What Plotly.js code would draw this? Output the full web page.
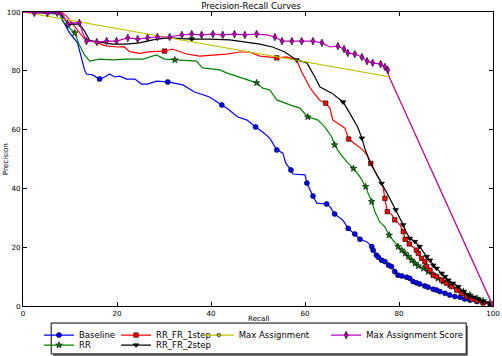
<!DOCTYPE html>
<html>
<head>
<meta charset="utf-8">
<script src="https://cdn.plot.ly/plotly-3.0.1.min.js"></script>
<style>
  html, body { margin: 0; padding: 0; background: #fff; }
  #plot { width: 502px; height: 356px; }
</style>
</head>
<body>
<div id="plot"></div>
<script>
// precision / recall values

var baseR = [0, 8.2, 8.4, 9.9, 11.6, 12.5, 13.1, 13.5, 14.8, 16.3, 17.4, 18.4, 19.5, 20.6, 22.0, 23.8, 25.2, 26.5, 28.4, 30.8, 34.0, 36.5, 39.7, 42.3, 43.6, 45.7, 47.6, 49.5, 51.0, 52.5, 54.0, 55.3, 55.9, 57.0, 57.4, 60.0, 60.4, 61.7, 62.5, 64.6, 65.3, 66.3, 68.0, 69.2, 70.6, 71.7, 73.2, 74.2, 74.5, 75.2, 75.6, 76.3, 77.0, 77.8, 78.4, 79.1, 79.8, 80.6, 81.6, 82.3, 83.0, 83.7, 84.4, 85.5, 86.2, 87.3, 88.0, 88.7, 89.8, 90.8, 91.9, 93.0, 94.0, 95.1, 96.6, 97.9, 99.4, 100];
var baseP = [100, 100, 97.3, 92.9, 89.5, 83.7, 80.3, 78.9, 78.6, 77.2, 77.9, 78.9, 77.9, 78.2, 77.2, 77.2, 75.5, 75.5, 76.5, 76.2, 75.2, 72.8, 71.1, 68.4, 67.0, 64.3, 63.3, 60.9, 59.2, 57.1, 53.1, 52.0, 48.6, 46.3, 44.9, 44.6, 41.8, 37.4, 35.0, 34.7, 33.8, 31.3, 29.3, 26.4, 24.5, 22.7, 21.8, 20.2, 19.0, 17.3, 16.6, 15.6, 15.1, 13.9, 13.4, 11.7, 10.5, 10.2, 9.8, 9.4, 8.3, 7.9, 7.5, 6.8, 6.4, 5.7, 5.4, 4.9, 4.3, 3.7, 3.2, 3.0, 2.4, 2.0, 1.5, 1.1, 0.7, 0];
var baseMarkR = [16.3, 30.8, 42.3, 49.5, 54.0, 57.0, 60.4, 61.7, 64.6, 66.3, 69.2, 70.6, 71.7, 74.2, 74.5, 75.2, 75.6, 76.3, 77.0, 77.8, 78.4, 79.1, 79.8, 80.6, 81.6, 82.3, 83.0, 83.7, 84.4, 85.5, 86.2, 87.3, 88.0, 88.7, 89.8, 90.8, 91.9, 93.0, 94.0, 95.1, 96.6, 97.9, 99.4];
var baseMarkP = [77.2, 76.2, 68.4, 60.9, 53.1, 46.3, 41.8, 37.4, 34.7, 31.3, 26.4, 24.5, 22.7, 20.2, 19.0, 17.3, 16.6, 15.6, 15.1, 13.9, 13.4, 11.7, 10.5, 10.2, 9.8, 9.4, 8.3, 7.9, 7.5, 6.8, 6.4, 5.7, 5.4, 4.9, 4.3, 3.7, 3.2, 3.0, 2.4, 2.0, 1.5, 1.1, 0.7];

var rrR = [0, 7.8, 8.4, 9.3, 11.0, 12.0, 13.1, 14.2, 16.3, 19.1, 22.0, 25.5, 28.4, 30.1, 32.3, 36.9, 38.2, 41.9, 43.3, 45.7, 47.8, 49.7, 51.0, 52.5, 54.0, 56.8, 58.9, 60.6, 62.7, 64.2, 65.7, 66.3, 67.4, 68.9, 70.3, 71.7, 72.3, 72.9, 73.4, 74.2, 74.9, 75.9, 77.0, 77.9, 78.7, 79.8, 80.6, 81.3, 82.0, 82.7, 83.4, 84.1, 85.2, 86.2, 87.3, 88.3, 89.4, 90.8, 92.3, 93.7, 95.1, 96.6, 97.9, 99.4, 100];
var rrP = [100, 99.3, 96.9, 95.6, 92.9, 88.8, 85.4, 83.3, 84.0, 83.7, 84.0, 84.0, 85.4, 84.0, 83.7, 83.3, 81.0, 80.3, 79.3, 77.9, 76.9, 75.9, 74.1, 73.5, 70.1, 68.4, 67.3, 64.3, 63.3, 60.9, 57.5, 54.8, 52.0, 49.0, 46.8, 43.9, 42.2, 40.6, 38.4, 35.5, 32.0, 28.6, 26.9, 24.1, 22.4, 20.2, 19.0, 17.9, 16.8, 15.6, 14.5, 13.6, 12.8, 11.7, 10.5, 9.4, 8.3, 7.1, 6.0, 4.9, 3.7, 2.6, 1.8, 1.1, 0];
var rrMarkR = [11.0, 32.3, 49.7, 60.6, 66.3, 70.3, 72.9, 74.2, 77.9, 79.8, 80.6, 81.3, 82.0, 82.7, 83.4, 84.1, 85.2, 86.2, 87.3, 88.3, 89.4, 90.8, 92.3, 93.7, 95.1, 96.6, 97.9, 99.4];
var rrMarkP = [92.9, 83.7, 75.9, 64.3, 54.8, 46.8, 40.6, 35.5, 24.1, 20.2, 19.0, 17.9, 16.8, 15.6, 14.5, 13.6, 12.8, 11.7, 10.5, 9.4, 8.3, 7.1, 6.0, 4.9, 3.7, 2.6, 1.8, 1.1];

var fr1R = [0, 8.4, 9.3, 10.3, 11.6, 13.1, 15.0, 17.6, 20.1, 21.5, 22.7, 24.8, 27.2, 30.1, 31.8, 34.8, 37.6, 40.4, 43.3, 46.1, 48.2, 50.4, 52.5, 54.0, 56.1, 58.2, 59.3, 60.4, 61.0, 61.7, 63.1, 64.4, 65.3, 65.9, 67.4, 68.5, 69.3, 71.0, 72.3, 73.2, 74.0, 74.9, 75.9, 76.6, 77.0, 77.5, 78.5, 79.1, 80.2, 80.9, 81.3, 82.2, 83.0, 83.7, 84.1, 84.8, 85.5, 85.9, 86.6, 87.3, 88.0, 89.1, 90.1, 91.2, 92.3, 93.3, 94.4, 95.5, 96.6, 97.9, 99.8, 100];
var fr1P = [100, 99.7, 98.5, 96.5, 93.5, 90.8, 89.9, 88.5, 88.1, 88.2, 86.5, 85.9, 86.5, 86.7, 87.4, 85.7, 85.0, 85.4, 85.7, 86.4, 86.4, 85.0, 84.7, 84.4, 84.7, 83.7, 79.6, 76.2, 74.5, 72.8, 70.1, 69.0, 67.3, 63.3, 61.6, 60.5, 56.8, 54.8, 53.1, 51.4, 48.5, 45.6, 42.9, 40.5, 36.6, 32.1, 31.0, 29.3, 27.6, 25.3, 22.7, 21.1, 20.1, 19.0, 17.9, 16.2, 15.1, 13.4, 12.2, 10.5, 10.0, 8.8, 7.7, 6.6, 5.4, 4.3, 3.2, 2.3, 1.8, 1.1, 0.7, 0];
var fr1MarkR = [30.1, 54.0, 64.4, 69.3, 74.0, 77.0, 77.5, 79.1, 80.9, 81.3, 82.2, 83.7, 84.1, 84.8, 85.5, 85.9, 86.6, 87.3, 88.0, 89.1, 90.1, 91.2, 92.3, 93.3, 94.4, 95.5, 96.6, 97.9, 99.8];
var fr1MarkP = [86.7, 84.4, 69.0, 56.8, 48.5, 36.6, 32.1, 29.3, 25.3, 22.7, 21.1, 19.0, 17.9, 16.2, 15.1, 13.4, 12.2, 10.5, 10.0, 8.8, 7.7, 6.6, 5.4, 4.3, 3.2, 2.3, 1.8, 1.1, 0.7];

var fr2R = [0, 7.8, 9.3, 9.9, 12.0, 13.1, 14.2, 16.9, 19.0, 22.0, 24.8, 27.6, 30.6, 35.9, 39.7, 44.0, 47.6, 50.4, 53.1, 55.7, 58.2, 60.4, 62.1, 63.2, 65.7, 68.1, 68.9, 70.2, 71.2, 72.1, 72.7, 73.8, 74.9, 76.3, 78.0, 79.3, 80.2, 80.9, 81.5, 82.3, 83.4, 84.4, 85.9, 86.6, 87.3, 88.0, 89.1, 89.8, 90.5, 91.5, 92.6, 93.7, 94.7, 95.8, 96.9, 97.9, 99.2, 100];
var fr2P = [100, 99.7, 96.6, 95.9, 95.9, 93.5, 90.3, 89.5, 89.1, 89.1, 89.5, 90.5, 91.2, 90.8, 90.8, 90.5, 89.8, 89.1, 88.1, 86.4, 83.7, 82.7, 77.9, 74.5, 72.4, 69.4, 67.3, 63.9, 60.9, 57.1, 53.7, 49.0, 45.6, 41.7, 36.7, 32.7, 30.3, 27.6, 25.2, 23.0, 21.9, 20.2, 16.8, 15.6, 13.9, 12.8, 11.1, 10.0, 8.8, 7.7, 6.6, 4.9, 3.7, 3.0, 2.3, 1.5, 0.9, 0];
var fr2MarkR = [9.9, 35.9, 58.2, 68.1, 72.1, 76.3, 79.3, 80.9, 82.3, 83.4, 84.4, 85.9, 86.6, 87.3, 88.0, 89.1, 89.8, 90.5, 91.5, 92.6, 93.7, 94.7, 95.8, 96.9, 97.9, 99.2];
var fr2MarkP = [95.9, 90.8, 83.7, 69.4, 57.1, 41.7, 32.7, 27.6, 23.0, 21.9, 20.2, 16.8, 15.6, 13.9, 12.8, 11.1, 10.0, 8.8, 7.7, 6.6, 4.9, 3.7, 3.0, 2.3, 1.5, 0.9];

var maxR = [0, 77.9, 100];
var maxP = [100, 78.0, 0];

var scoreR = [0, 2.4, 5.2, 7.3, 8.4, 9.5, 10.5, 12.0, 12.7, 13.5, 14.6, 15.7, 17.8, 19.9, 22.3, 24.4, 26.5, 28.6, 31.2, 33.8, 35.9, 38.0, 40.4, 42.5, 45.0, 47.2, 49.7, 51.9, 53.6, 55.1, 57.2, 59.3, 61.7, 63.6, 65.3, 67.0, 68.3, 69.1, 70.6, 72.1, 73.2, 74.4, 76.1, 77.0, 77.6, 77.9, 100];
var scoreP = [100, 99.7, 99.7, 99.7, 99.3, 95.9, 96.3, 96.3, 92.9, 90.1, 90.1, 89.8, 90.1, 90.1, 91.2, 90.8, 91.2, 91.5, 91.5, 92.2, 92.5, 92.2, 92.5, 92.2, 92.5, 92.2, 92.5, 92.2, 91.5, 90.1, 90.1, 90.1, 90.1, 89.5, 88.1, 88.4, 87.4, 86.1, 85.7, 84.7, 83.3, 82.7, 82.3, 81.3, 80.3, 78.0, 0];
var scoreMarkR = [2.4, 5.2, 7.3, 9.5, 12.0, 13.5, 15.7, 17.8, 19.9, 22.3, 24.4, 26.5, 28.6, 31.2, 33.8, 35.9, 38.0, 40.4, 42.5, 45.0, 47.2, 49.7, 53.6, 55.1, 57.2, 59.3, 61.7, 63.6, 67.0, 68.3, 69.1, 70.6, 72.1, 73.2, 74.4, 76.1, 77.0, 77.6];
var scoreMarkP = [99.7, 99.7, 99.7, 95.9, 96.3, 90.1, 89.8, 90.1, 90.1, 91.2, 90.8, 91.2, 91.5, 91.5, 92.2, 92.5, 92.2, 92.5, 92.2, 92.5, 92.2, 92.5, 91.5, 90.1, 90.1, 90.1, 90.1, 89.5, 88.4, 87.4, 86.1, 85.7, 84.7, 83.3, 82.7, 82.3, 81.3, 80.3];

var FONT = 'DejaVu Sans, Liberation Sans, sans-serif';

var series = [
  {name: 'Baseline', r: baseR, p: baseP, mr: baseMarkR, mp: baseMarkP, color: '#0000ff', symbol: 'circle', size: 5, legend: 'legend'},
  {name: 'RR', r: rrR, p: rrP, mr: rrMarkR, mp: rrMarkP, color: '#008000', symbol: 'star', size: 5, legend: 'legend2'},
  {name: 'RR_FR_1step', r: fr1R, p: fr1P, mr: fr1MarkR, mp: fr1MarkP, color: '#ff0000', symbol: 'square', size: 4.5, legend: 'legend3'},
  {name: 'RR_FR_2step', r: fr2R, p: fr2P, mr: fr2MarkR, mp: fr2MarkP, color: '#000000', symbol: 'triangle-down', size: 5, legend: 'legend4'},
  {name: 'Max Assignment', r: maxR, p: maxP, mr: [], mp: [], color: '#bfbf00', symbol: 'circle', size: 3.5, legend: 'legend5'},
  {name: 'Max Assignment Score', r: scoreR, p: scoreP, mr: scoreMarkR, mp: scoreMarkP, color: '#bf00bf', symbol: 'diamond-tall', size: 5.5, legend: 'legend6'}
];

var traces = [];
series.forEach(function (s) {
  traces.push({
    x: s.r, y: s.p, type: 'scatter', mode: 'lines',
    line: {color: s.color, width: 1.2},
    showlegend: false, hoverinfo: 'skip'
  });
  traces.push({
    x: s.mr, y: s.mp, type: 'scatter', mode: 'markers',
    marker: {color: s.color, symbol: s.symbol, size: s.size, line: {color: '#000', width: 0.6}},
    showlegend: false, hoverinfo: 'skip'
  });
});
// legend entries only
series.forEach(function (s) {
  traces.push({
    x: [null], y: [null], type: 'scatter', mode: 'lines+markers', name: s.name,
    legend: s.legend,
    line: {color: s.color, width: 1.2},
    marker: {color: s.color, symbol: s.symbol, size: s.size, line: {color: '#000', width: 0.6}}
  });
});

function leg(x, y) {
  return {
    x: x, y: y, xanchor: 'left', yanchor: 'middle',
    bgcolor: 'rgba(0,0,0,0)', borderwidth: 0,
    font: {family: FONT, size: 8.5, color: '#000'},
    itemwidth: 30, tracegroupgap: 0
  };
}

var axis = {
  range: [0, 100], dtick: 20, showgrid: false, zeroline: false,
  showline: true, linecolor: '#000', linewidth: 1, mirror: 'ticks',
  ticks: 'inside', ticklen: 4, tickcolor: '#000', tickwidth: 1,
  tickfont: {family: FONT, size: 7.2, color: '#000'}, fixedrange: true
};

var layout = {
  width: 502, height: 356,
  margin: {l: 23, r: 9, t: 12, b: 50, autoexpand: false},
  paper_bgcolor: '#fff', plot_bgcolor: '#fff',
  title: {text: 'Precision-Recall Curves', x: 0.5, xanchor: 'center', y: 0.983, yanchor: 'middle', yref: 'container',
          font: {family: FONT, size: 8.6, color: '#000'}},
  xaxis: Object.assign({}, axis, {ticklabelstandoff: 0}),
  yaxis: Object.assign({}, axis, {ticklabelstandoff: 0}),
  annotations: [
    {text: 'Recall', xref: 'paper', yref: 'paper', x: 0.5, y: -0.044, showarrow: false,
     xanchor: 'center', yanchor: 'middle', font: {family: FONT, size: 7.2, color: '#000'}},
    {text: 'Precision', xref: 'paper', yref: 'paper', x: -0.038, y: 0.5, showarrow: false, textangle: -90,
     xanchor: 'center', yanchor: 'middle', font: {family: FONT, size: 7.2, color: '#000'}}
  ],
  shapes: [
    {type: 'rect', xref: 'paper', yref: 'paper', x0: 0.064, x1: 0.947, y0: -0.068, y1: -0.170,
     fillcolor: 'rgba(0,0,0,0.5)', line: {width: 0}, layer: 'above'},
    {type: 'rect', xref: 'paper', yref: 'paper', x0: 0.060, x1: 0.943, y0: -0.058, y1: -0.163,
     fillcolor: '#fff', line: {color: '#000', width: 1}, layer: 'above'}
  ],
  legend: leg(0.034, -0.099),
  legend2: leg(0.034, -0.133),
  legend3: leg(0.198, -0.099),
  legend4: leg(0.198, -0.133),
  legend5: leg(0.374, -0.099),
  legend6: leg(0.645, -0.099)
};

Plotly.newPlot('plot', traces, layout, {displayModeBar: false, staticPlot: true});
</script>
</body>
</html>
